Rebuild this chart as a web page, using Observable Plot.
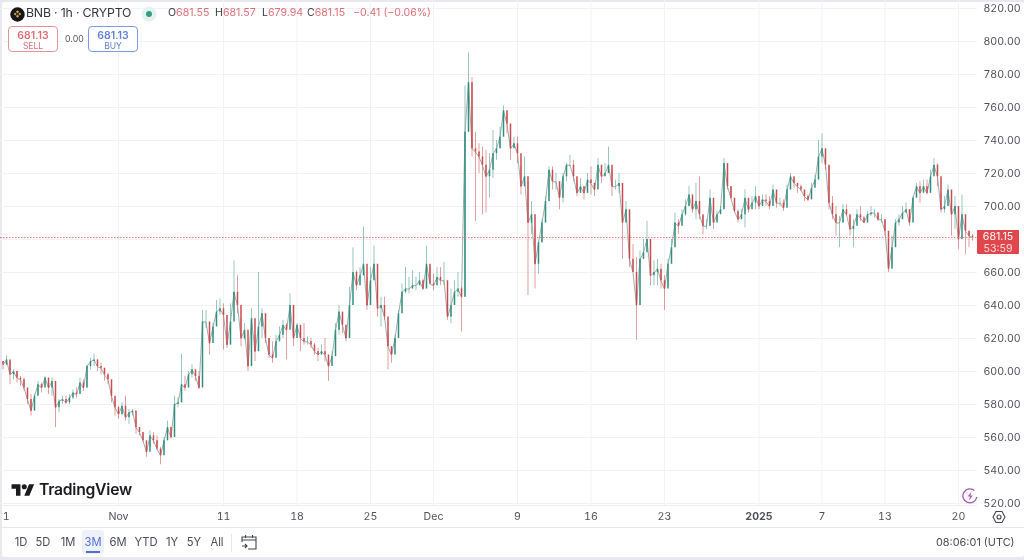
<!DOCTYPE html>
<html><head><meta charset="utf-8">
<style>
html,body{margin:0;padding:0;background:#e9e8f1;}
#wrap{position:relative;width:1024px;height:560px;overflow:hidden;font-family:Inter,"Noto Sans",sans-serif;color:#3b3d45;filter:blur(.3px);}
#panel{position:absolute;left:2px;top:2px;width:1022px;height:555px;background:#fff;border-radius:3px;}
#chart{position:absolute;left:0;top:0;}
.abs{position:absolute;white-space:nowrap;line-height:1;}
.red{color:#dd6e75;}
.q{position:absolute;top:8px;font-size:10.6px;white-space:nowrap;line-height:1;}
.box{position:absolute;top:26px;width:48px;height:24px;border-radius:4px;background:#fff;text-align:center;}
.box b{display:block;font-size:10.5px;font-weight:600;margin-top:3px;line-height:11px;}
.box span{display:block;font-size:8.5px;line-height:10px;}
.tb{position:absolute;top:537px;font-size:11.2px;color:#4a4c55;transform:translateX(-50%);line-height:1;}
</style></head><body>
<div id="wrap">
<div id="panel"></div>
<div id="chart"></div>
<svg class="abs" style="left:10px;top:7px" width="15" height="15"><circle cx="7.5" cy="7.5" r="7.2" fill="#16161a"/><path d="M7.5 3.2l1.6 1.6-1.6 1.6-1.6-1.6zM3.7 7l1.5-1.5L6.7 7 5.2 8.5zM8.3 7l1.5-1.5L11.3 7 9.8 8.5zM7.5 7.6l1.6 1.6-1.6 1.6-1.6-1.6z" fill="#c9a14a"/></svg>
<div class="abs" style="left:26px;top:7px;font-size:12.3px;letter-spacing:-.18px;color:#33353c">BNB · 1h · CRYPTO</div>
<svg class="abs" style="left:141px;top:6px" width="16" height="16"><circle cx="8" cy="8" r="7.5" fill="#e6f2ef"/><circle cx="8" cy="8" r="3" fill="#2f9e83"/></svg>
<div class="q" style="left:168px">O<span class="red">681.55</span></div>
<div class="q" style="left:215px">H<span class="red">681.57</span></div>
<div class="q" style="left:262px">L<span class="red">679.94</span></div>
<div class="q" style="left:307px">C<span class="red">681.15</span></div>
<div class="q red" style="left:353px">−0.41 (−0.06%)</div>
<div class="box" style="left:8px;border:1px solid #e3959a;color:#dd6e75"><b>681.13</b><span>SELL</span></div>
<div class="abs" style="left:65px;top:35px;font-size:8.8px;color:#55575f">0.00</div>
<div class="box" style="left:88px;border:1px solid #7e9be0;color:#5f7fd8"><b>681.13</b><span>BUY</span></div>
<svg class="abs" style="left:11px;top:483px" width="24" height="14" viewBox="0 0 36 22"><path d="M14 20H7V9H0V2h14v18zM28 20h-8l7.5-18h8L28 20z" fill="#1b1b1f"/><circle cx="20" cy="6" r="4" fill="#1b1b1f"/></svg>
<div class="abs" style="left:39px;top:482px;font-size:15.7px;font-weight:600;letter-spacing:-.25px;color:#1b1b1f">TradingView</div>
<svg class="abs" style="left:962px;top:488px" width="16" height="16" viewBox="0 0 16 16"><path d="M12.5 2.600A7 7 0 1 0 14.800 9" fill="none" stroke="#a656b8" stroke-width="1.3"/><path d="M9.500 3.500L5.600 8.600h2.500L6.900 12.500l3.900-5H8.300z" fill="#a656b8"/></svg>
<svg class="abs" style="left:992px;top:510px" width="14" height="14" viewBox="0 0 14 14"><path d="M4 1.500h6L13 7l-3 5.500H4L1 7z" fill="none" stroke="#44464e" stroke-width="1.1"/><circle cx="7" cy="7" r="2" fill="none" stroke="#44464e" stroke-width="1.1"/></svg>
<div class="abs" style="left:2px;top:527px;width:1022px;height:1px;background:#e6e6ea"></div>
<div class="abs" style="left:82px;top:530px;width:22px;height:24px;background:#eef1fa;border-radius:3px"></div>
<div class="abs" style="left:86px;top:551px;width:14px;height:2px;background:#4f6fd6"></div>
<div class="abs" style="left:231px;top:534px;width:1px;height:18px;background:#e6e6ea"></div>
<svg class="abs" style="left:241px;top:534px" width="16" height="16" viewBox="0 0 16 16" fill="none" stroke="#44464e" stroke-width="1.1"><path d="M1 8V3h14v12H7M1 6h14M4.500 1v3M11.500 1v3M1 12h5M4 10l2 2-2 2"/></svg>
<div class="abs" style="left:936px;top:537px;font-size:10.9px;color:#4a4c55">08:06:01 (UTC)</div>
</div>
<script src="https://cdn.jsdelivr.net/npm/d3@7"></script>
<script src="https://cdn.jsdelivr.net/npm/@observablehq/plot@0.6"></script>
<script>
const startTime = "2024-10-21T00:00:00Z";
const stepHours = 8;
const firstOpen = 606;
const lastPrice = 681.15;
const highs = [606,609.5,606,601,600,597,596,589,586,586,594,593,597,594,596,587,583,585,585,586,589,590,596,595,604,608,610.5,607,605,601,599,592,584,579,581,585,577,577,571,566,562,557,564,563,561,554,560,570,566,585,584,610.5,597,600,604,600,600,637,637,622,629,643,644,641,624,641,667,658,632,629,610,638,622,660,638,625,620,618,622,627,631,629,647,627,629,627,629,621,620,617,614,616,620,609,612,629,640,631,625,651,675,661,663,687.5,657,663,676,653,645,645,623,615,622,637,653,663,657,661,657,660,656,676,663,659,663,663,666,651,650,655,660,651,773,793,778,745,738,736,734,732,746,740,748,761,756,744,742,742,724,730,715,703,687,679,692,706,724,724,720,710,720,726,731,728,716,717,712,720,724,714,729,724,726,736,722,716,720,702,703,697,677,669,673,680,691,668,667,668,665,658,668,680,696,692,698,704,712,706,714,718,694,692,710,694,697,700,729,723,712,704,698,698,710,704,706,712,704,707,707,706,713,706,705,704,713,720,717,713,713,709,707,714,719,740,744,730,724,706,700,694,701,701,694,692,698,700,694,697,700,698,696,695,692,682,682,692,695,700,702,698,706,714,715,716,716,722,729,726,708,706,713,704,706,696,707,690,684,683];
const lows = [601,603.5,592,595,593,591,588,580,573,578,586,587,591,586,585,566,575,580,580,580,583,584,589,588,590,601,603,600,598,594,592,581,573,571,573,570,568,573,562,561,557,548,554,556,552,543.5,552,561,559,571,578,590,588,592,596,594,589,597,626,610,622,631,634,613,614,622,640,635,615,619,600,608,606,620,620,617,608,605,615,620,620,607,629,615,622,612,616,616,614,610,606,610,606,594,607,612,622,623,618,635,655,649,656,660,637,646,657,633,627,631,601,605,615,622,640,647,647,651,649,652,649,657,653,649,655,652,652,631,629,643,645,624,645,745,730,691,720,695,696,705,717,728,735,745,744,728,736,726,707,715,646,683,650,659,678,692,706,710,710,698,702,715,724,715,706,709,704,713,707,706,715,714,718,722,706,710,708,668,695,663,661,619,660,668,675,652,652,652,650,637,652,669,682,683,690,694,700,696,692,692,683,686,688,686,691,696,699,710,704,696,690,692,687,696,700,698,698,701,700,698,705,699,700,697,704,712,711,708,709,703,703,709,713,718,726,722,698,692,682,675,690,694,682,675,690,691,690,694,694,693,691,690,682,660,665,684,688,692,696,688,699,706,702,710,707,714,720,712,696,696,704,682,686,674,692,671,675,679];
const closes = [604,607,598,600,596,595,590,583,576,585,592,590,596,590,594,578,582,583,581,584,587,586,593,590,603,606,607,603,602,598,595,585,578,574,579,572,575,576,566,563,558,551,561,558,553,549,558,566,560,580,581,592,590,598,601,597,590,630,630,617,627,636,638,634,616,630,648,640,620,625,603,632,612,627,635,620,610,608,618,622,628,625,640,620,628,620,618,618,616,612,610,612,610,603,609,625,636,628,620,640,660,652,658,665,640,655,665,638,640,633,615,610,620,635,648,650,650,652,652,655,650,665,653,652,657,655,655,633,640,648,650,645,745,775,735,733,730,725,718,722,732,735,742,758,750,735,738,732,712,718,690,695,665,678,690,703,722,715,715,705,718,725,725,718,708,712,708,716,714,710,725,718,720,725,712,712,714,690,698,668,660,640,668,672,680,658,660,662,655,650,665,675,690,688,695,700,707,698,703,695,688,688,705,690,695,698,726,712,705,697,692,695,705,698,702,706,700,704,703,700,710,702,702,699,710,718,714,712,710,706,704,711,716,730,735,725,702,695,690,690,698,695,686,688,695,693,690,695,696,696,692,692,685,662,675,690,692,696,698,690,705,712,708,712,708,718,725,718,698,700,710,695,700,680,695,685,682,681.15];
if (highs.length !== closes.length || lows.length !== closes.length) throw new Error(`lengths h${highs.length} l${lows.length} c${closes.length}`);
const priceTicks = [820,800,780,760,740,720,700,660,640,620,600,580,560,540,520];
const gridPrices = [820,800,780,760,740,720,700,680,660,640,620,600,580,560,540,520];
const timeTicks = ["2024-11-01","2024-11-11","2024-11-18","2024-11-25","2024-12-01","2024-12-09","2024-12-16","2024-12-23","2025-01-01","2025-01-07","2025-01-13","2025-01-20"].map(s => new Date(s + "T00:00:00Z"));
const timeLabels = ["Nov","11","18","25","Dec","9","16","23","2025","7","13","20"];
const firstTick = new Date("2024-10-21T07:00:00Z");
const UP = "#2f8f7e", DOWN = "#cc4a4e";

const candles = closes.map((c, i) => ({
  t: new Date(Date.parse(startTime) + i * stepHours * 3600e3),
  o: i ? closes[i - 1] : firstOpen, h: highs[i], l: lows[i], c
}));
const labelOf = d => timeLabels[timeTicks.findIndex(t => +t === +d)] ?? "1";
const fontProps = {fontSize: 10.6, fill: "#4f515a"};

const chart = Plot.plot({
  width: 1024, height: 527,
  marginLeft: 0, marginRight: 47, marginTop: 0, marginBottom: 22,
  style: {background: "transparent", fontFamily: "Inter, 'Noto Sans', sans-serif"},
  x: {type: "utc", domain: [new Date("2024-10-20T18:17:00Z"), new Date("2025-01-21T19:26:00Z")]},
  y: {domain: [518.79, 824.85]},
  marks: [
    Plot.ruleY(gridPrices, {stroke: "#f2f2f4"}),
    Plot.ruleX(timeTicks, {stroke: "#f2f2f4"}),
    Plot.ruleY([518.79], {stroke: "#eeeef1"}),
    Plot.axisY(priceTicks, {anchor: "right", tickSize: 0, tickPadding: 6, label: null, tickFormat: d3.format(".2f"), ...fontProps}),
    Plot.axisX(timeTicks.filter((_, i) => timeLabels[i] !== "2025").concat(firstTick), {anchor: "bottom", tickSize: 0, tickPadding: 7, label: null, tickFormat: labelOf, ...fontProps}),
    Plot.axisX([timeTicks[timeLabels.indexOf("2025")]], {anchor: "bottom", tickSize: 0, tickPadding: 7, label: null, tickFormat: labelOf, fontWeight: 700, ...fontProps}),
    Plot.line(candles, {x: "t", y: "c", stroke: "#6f8480", strokeWidth: 0.9, strokeOpacity: 0.75}),
    Plot.ruleX(candles, {filter: d => d.c >= d.o, x: "t", y1: "l", y2: "h", stroke: "#5aa497", strokeWidth: 0.9, strokeOpacity: 0.7}),
    Plot.ruleX(candles, {filter: d => d.c < d.o, x: "t", y1: "l", y2: "h", stroke: "#cf6468", strokeWidth: 0.9, strokeOpacity: 0.7}),
    Plot.ruleX(candles, {filter: d => d.c >= d.o, x: "t", y1: "o", y2: "c", stroke: UP, strokeWidth: 1.5}),
    Plot.ruleX(candles, {filter: d => d.c < d.o, x: "t", y1: "o", y2: "c", stroke: DOWN, strokeWidth: 1.5}),
    Plot.ruleY([lastPrice], {stroke: "#e8767c", strokeWidth: 1, strokeDasharray: "1.5,1.5"})
  ]
});
document.getElementById("chart").appendChild(chart);

const wrap = document.getElementById("wrap");
const badge = document.createElement("div");
badge.className = "abs";
badge.style.cssText = `left:977px;top:${chart.scale("y").apply(lastPrice) - 7}px;width:42px;height:24px;background:#e0474c;color:#fff;border-radius:1px;text-align:center;font-size:10.6px;line-height:11.5px;padding-top:1px;box-sizing:border-box`;
badge.innerHTML = `681.15<br><span style="opacity:.8">53:59</span>`;
wrap.appendChild(badge);

const ranges = ["1D","5D","1M","3M","6M","YTD","1Y","5Y","All"];
const rangeX = [21,43,68,93,118,146,172,194,217];
ranges.forEach((r, i) => {
  const el = document.createElement("div");
  el.className = "tb";
  el.textContent = r;
  el.style.left = rangeX[i] + "px";
  if (r === "3M") el.style.color = "#4f6fd6";
  wrap.appendChild(el);
});
</script>
</body></html>
